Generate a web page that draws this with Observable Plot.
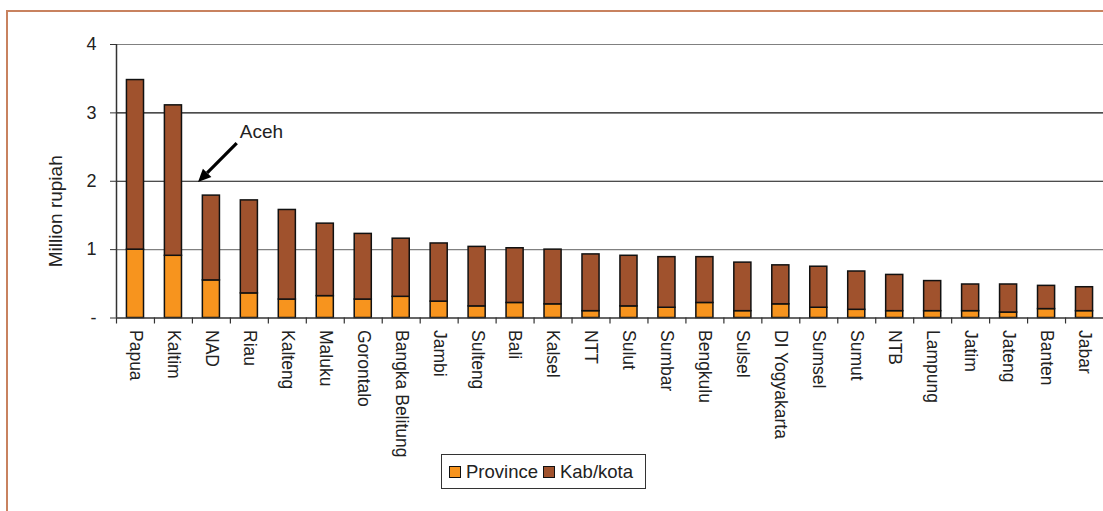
<!DOCTYPE html>
<html>
<head>
<meta charset="utf-8">
<script src="https://cdn.jsdelivr.net/npm/d3@7"></script>
<script src="https://cdn.jsdelivr.net/npm/@observablehq/plot@0.6"></script>
<style>
  html, body { margin: 0; padding: 0; background: #fff; overflow: hidden; }
  #wrap { position: relative; width: 1103px; height: 511px; overflow: hidden; font-family: "Liberation Sans", Arial, sans-serif; }
  #frame { position: absolute; left: 6px; top: 10px; width: 1200px; height: 600px; border-left: 2px solid #C8825F; border-top: 2px solid #C8825F; box-sizing: border-box; }
  #chart { position: absolute; left: 0; top: 0; }
  #legend { position: absolute; left: 441px; top: 454px; width: 205px; height: 35px; box-sizing: border-box; border: 1px solid #333; background: #fff;
            display: flex; align-items: center; padding-left: 7px; font-size: 18.5px; color: #222; white-space: nowrap; }
  .sw { display: inline-block; width: 10px; height: 10px; border: 1px solid #111; margin-right: 5px; }
</style>
</head>
<body>
<div id="wrap">
  <div id="frame"></div>
  <div id="chart"></div>
  <div id="legend"></div>
</div>
<script>
const categories = ["Papua","Kaltim","NAD","Riau","Kalteng","Maluku","Gorontalo","Bangka Belitung","Jambi","Sulteng","Bali","Kalsel","NTT","Sulut","Sumbar","Bengkulu","Sulsel","DI Yogyakarta","Sumsel","Sumut","NTB","Lampung","Jatim","Jateng","Banten","Jabar"];
const province = [1.00,0.91,0.55,0.36,0.27,0.32,0.27,0.31,0.24,0.17,0.22,0.20,0.10,0.17,0.15,0.22,0.10,0.20,0.15,0.12,0.10,0.10,0.10,0.08,0.13,0.10];
const kabkota  = [2.48,2.20,1.24,1.36,1.31,1.06,0.96,0.85,0.85,0.87,0.80,0.80,0.83,0.74,0.74,0.67,0.71,0.57,0.60,0.56,0.53,0.44,0.39,0.41,0.34,0.35];
const seriesNames = ["Province","Kab/kota"];
const seriesColors = ["#F7941E","#A0522D"];
const yTicks = [0,1,2,3,4];
const yLabel = "Million rupiah";
const annotation = {label: "Aceh", category: "NAD"};

const W = 1103, H = 511, ML = 116, MR = 0, MT = 44, MB = 193.5;
const step = (W - ML - MR) / categories.length;

const rows = [];
categories.forEach((c, i) => {
  rows.push({region: c, series: seriesNames[0], value: province[i]});
  rows.push({region: c, series: seriesNames[1], value: kabkota[i]});
});

const chart = Plot.plot({
  width: W, height: H,
  marginLeft: ML, marginRight: MR, marginTop: MT, marginBottom: MB,
  style: {fontFamily: "'Liberation Sans', Arial, sans-serif", color: "#222", background: "transparent", overflow: "visible"},
  x: {domain: categories, paddingInner: 0.55, paddingOuter: 0.275, align: 0.5, round: false},
  y: {domain: [0, 4]},
  color: {domain: seriesNames, range: seriesColors},
  marks: [
    Plot.ruleY([1,2,3,4], {stroke: d => (d === 2 || d === 3) ? "#111" : "#808080", strokeWidth: 1.2}),
    Plot.barY(rows, {x: "region", y: "value", fill: "series", stroke: "#111", strokeWidth: 1.5, order: seriesNames}),
    Plot.ruleY([0], {stroke: "#333", strokeWidth: 1.5}),
    Plot.ruleX([categories[0]], {x: d => d, dx: -step / 2, y1: 0, y2: 4, stroke: "#333", strokeWidth: 1.5}),
    Plot.ruleX(categories, {x: d => d, dx: -step / 2, y1: 0, y2: 0, insetBottom: -6, stroke: "#333", strokeWidth: 1.2}),
    Plot.axisY({ticks: yTicks, tickFormat: d => d === 0 ? "-" : String(d), tickSize: 6, tickPadding: 14, fontSize: 18, label: null, stroke: "#333"}),
    Plot.axisX({tickRotate: 90, tickSize: 0, tickPadding: 12, fontSize: 17.5, label: null}),
    Plot.text([yLabel], {frameAnchor: "left", text: d => d, dx: -61, dy: 30, rotate: -90, textAnchor: "middle", lineAnchor: "middle", fontSize: 19, fill: "#222"})
  ]
});
document.getElementById("chart").appendChild(chart);

// Annotation: arrow pointing at the NAD (Aceh) bar, positioned through the chart's scales
const xs = chart.scale("x"), ys = chart.scale("y");
const cx = xs.apply(annotation.category) + xs.bandwidth / 2;
const sv = d3.select(chart);
const tail = [cx + 0.68 * step, ys.apply(2.55)];
const tip = [cx - 0.34 * step, ys.apply(1.98)];
const ang = Math.atan2(tip[1] - tail[1], tip[0] - tail[0]);
const hl = 13, hw = 6;
const base = [tip[0] - hl * Math.cos(ang), tip[1] - hl * Math.sin(ang)];
const g = sv.append("g");
g.append("line").attr("x1", tail[0]).attr("y1", tail[1]).attr("x2", base[0]).attr("y2", base[1])
  .attr("stroke", "#000").attr("stroke-width", 3.2);
g.append("path").attr("d", `M${tip[0]},${tip[1]}L${base[0] - hw * Math.sin(ang)},${base[1] + hw * Math.cos(ang)}L${base[0] + hw * Math.sin(ang)},${base[1] - hw * Math.cos(ang)}Z`)
  .attr("fill", "#000");
g.append("text").attr("x", cx + 0.76 * step).attr("y", ys.apply(2.63)).attr("text-anchor", "start")
  .attr("font-size", 19).attr("fill", "#222").text(annotation.label);

// Legend
const lg = document.getElementById("legend");
seriesNames.forEach((s, i) => {
  const sw = document.createElement("span"); sw.className = "sw"; sw.style.background = seriesColors[i];
  const t = document.createElement("span"); t.textContent = s; t.style.marginRight = i === 0 ? "5px" : "0";
  lg.appendChild(sw); lg.appendChild(t);
});
</script>
</body>
</html>
